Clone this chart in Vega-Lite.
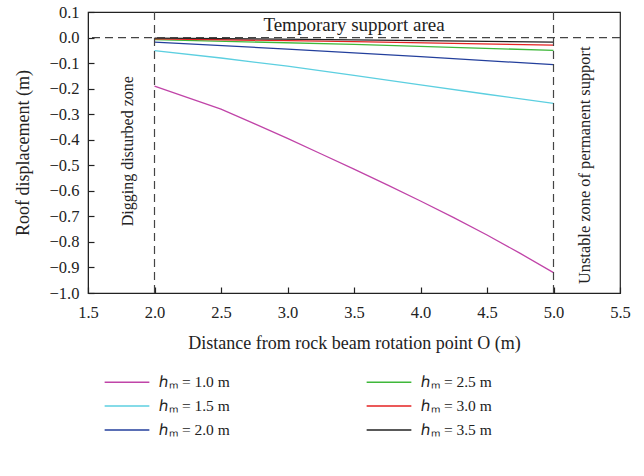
{
  "$schema": "https://vega.github.io/schema/vega-lite/v6.json",
  "width": 532,
  "height": 281,
  "autosize": "none",
  "padding": {"left": 88, "top": 12, "right": 24, "bottom": 183},
  "background": "white",
  "config": {
    "font": "Liberation Serif",
    "view": {"stroke": "#222", "strokeWidth": 1.2},
    "axis": {
      "labelFont": "Liberation Serif", "labelFontSize": 16.5, "labelColor": "#222",
      "titleFont": "Liberation Serif", "titleFontSize": 18, "titleFontWeight": "normal", "titleColor": "#222",
      "grid": false, "domainColor": "#222", "tickColor": "#222", "tickSize": -6, "tickWidth": 1.2,
      "labelOverlap": false, "labelBound": false, "labelFlush": false
    }
  },
  "datasets": {
    "series": [
      {"x": 2.0, "y": -0.19, "h": "ℎₘ = 1.0 m"},
      {"x": 2.25, "y": -0.235, "h": "ℎₘ = 1.0 m"},
      {"x": 2.5, "y": -0.28, "h": "ℎₘ = 1.0 m"},
      {"x": 2.75, "y": -0.337, "h": "ℎₘ = 1.0 m"},
      {"x": 3.0, "y": -0.395, "h": "ℎₘ = 1.0 m"},
      {"x": 3.25, "y": -0.455, "h": "ℎₘ = 1.0 m"},
      {"x": 3.5, "y": -0.515, "h": "ℎₘ = 1.0 m"},
      {"x": 3.75, "y": -0.577, "h": "ℎₘ = 1.0 m"},
      {"x": 4.0, "y": -0.64, "h": "ℎₘ = 1.0 m"},
      {"x": 4.25, "y": -0.705, "h": "ℎₘ = 1.0 m"},
      {"x": 4.5, "y": -0.773, "h": "ℎₘ = 1.0 m"},
      {"x": 4.75, "y": -0.845, "h": "ℎₘ = 1.0 m"},
      {"x": 5.0, "y": -0.92, "h": "ℎₘ = 1.0 m"},
      {"x": 2.0, "y": -0.051, "h": "ℎₘ = 1.5 m"},
      {"x": 2.5, "y": -0.08, "h": "ℎₘ = 1.5 m"},
      {"x": 3.0, "y": -0.112, "h": "ℎₘ = 1.5 m"},
      {"x": 3.5, "y": -0.148, "h": "ℎₘ = 1.5 m"},
      {"x": 4.0, "y": -0.185, "h": "ℎₘ = 1.5 m"},
      {"x": 4.5, "y": -0.222, "h": "ℎₘ = 1.5 m"},
      {"x": 5.0, "y": -0.258, "h": "ℎₘ = 1.5 m"},
      {"x": 2.0, "y": -0.018, "h": "ℎₘ = 2.0 m"},
      {"x": 3.0, "y": -0.045, "h": "ℎₘ = 2.0 m"},
      {"x": 4.0, "y": -0.075, "h": "ℎₘ = 2.0 m"},
      {"x": 5.0, "y": -0.106, "h": "ℎₘ = 2.0 m"},
      {"x": 2.0, "y": -0.008, "h": "ℎₘ = 2.5 m"},
      {"x": 3.5, "y": -0.027, "h": "ℎₘ = 2.5 m"},
      {"x": 5.0, "y": -0.05, "h": "ℎₘ = 2.5 m"},
      {"x": 2.0, "y": -0.005, "h": "ℎₘ = 3.0 m"},
      {"x": 3.5, "y": -0.016, "h": "ℎₘ = 3.0 m"},
      {"x": 5.0, "y": -0.03, "h": "ℎₘ = 3.0 m"},
      {"x": 2.0, "y": -0.002, "h": "ℎₘ = 3.5 m"},
      {"x": 3.5, "y": -0.009, "h": "ℎₘ = 3.5 m"},
      {"x": 5.0, "y": -0.018, "h": "ℎₘ = 3.5 m"}
    ],
    "vlines": [{"x": 2.0}, {"x": 5.0}],
    "hlines": [{"y": 0.0}],
    "top": [{"x": 3.5, "y": 0.05, "label": "Temporary support area"}],
    "left": [{"x": 1.8, "y": -0.445, "label": "Digging disturbed zone"}],
    "right": [{"x": 5.24, "y": -0.5, "label": "Unstable zone of permanent support"}]
  },
  "layer": [
    {
      "data": {"name": "series"},
      "mark": {"type": "line", "strokeWidth": 1.3},
      "encoding": {
        "x": {"field": "x", "type": "quantitative",
          "scale": {"domain": [1.5, 5.5], "nice": false, "zero": false},
          "axis": {"values": [1.5, 2.0, 2.5, 3.0, 3.5, 4.0, 4.5, 5.0, 5.5], "format": ".1f", "labelPadding": 17, "titlePadding": 14},
          "title": "Distance from rock beam rotation point O (m)"},
        "y": {"field": "y", "type": "quantitative",
          "scale": {"domain": [-1.0, 0.1], "nice": false, "zero": false},
          "axis": {"values": [0.1, 0.0, -0.1, -0.2, -0.3, -0.4, -0.5, -0.6, -0.7, -0.8, -0.9, -1.0], "format": ".1f", "labelPadding": 15, "titlePadding": 17},
          "title": "Roof displacement (m)"},
        "color": {"field": "h", "type": "nominal",
          "scale": {
            "domain": ["ℎₘ = 1.0 m", "ℎₘ = 1.5 m", "ℎₘ = 2.0 m", "ℎₘ = 2.5 m", "ℎₘ = 3.0 m", "ℎₘ = 3.5 m"],
            "range": ["#c044a8", "#5ccfe0", "#233f9c", "#3fb83a", "#e52222", "#222222"]
          },
          "legend": {
            "title": null, "orient": "none", "legendX": 27, "legendY": 358,
            "columns": 2, "columnPadding": 134, "rowPadding": 3,
            "symbolType": "M-2,0H2", "symbolSize": 500, "symbolStrokeWidth": 1.3,
            "labelFont": "Liberation Serif", "labelFontSize": 15.5, "labelColor": "#222", "labelOffset": 20, "labelLimit": 200
          }
        }
      }
    },
    {
      "data": {"name": "vlines"},
      "mark": {"type": "rule", "color": "#444", "strokeDash": [8, 5], "strokeWidth": 1.2},
      "encoding": {"x": {"field": "x", "type": "quantitative",
          "axis": {"values": [1.5, 2.0, 2.5, 3.0, 3.5, 4.0, 4.5, 5.0, 5.5], "format": ".1f", "labelPadding": 17, "titlePadding": 14},
          "title": "Distance from rock beam rotation point O (m)"}}
    },
    {
      "data": {"name": "hlines"},
      "mark": {"type": "rule", "color": "#444", "strokeDash": [8, 5], "strokeWidth": 1.2},
      "encoding": {"y": {"field": "y", "type": "quantitative",
          "axis": {"values": [0.1, 0.0, -0.1, -0.2, -0.3, -0.4, -0.5, -0.6, -0.7, -0.8, -0.9, -1.0], "format": ".1f", "labelPadding": 15, "titlePadding": 17},
          "title": "Roof displacement (m)"}}
    },
    {
      "data": {"name": "top"},
      "mark": {"type": "text", "fontSize": 19, "color": "#222", "font": "Liberation Serif", "align": "center", "baseline": "middle"},
      "encoding": {
        "x": {"field": "x", "type": "quantitative",
          "axis": {"values": [1.5, 2.0, 2.5, 3.0, 3.5, 4.0, 4.5, 5.0, 5.5], "format": ".1f", "labelPadding": 17, "titlePadding": 14},
          "title": "Distance from rock beam rotation point O (m)"},
        "y": {"field": "y", "type": "quantitative",
          "axis": {"values": [0.1, 0.0, -0.1, -0.2, -0.3, -0.4, -0.5, -0.6, -0.7, -0.8, -0.9, -1.0], "format": ".1f", "labelPadding": 15, "titlePadding": 17},
          "title": "Roof displacement (m)"},
        "text": {"field": "label"}}
    },
    {
      "data": {"name": "left"},
      "mark": {"type": "text", "fontSize": 16, "color": "#222", "font": "Liberation Serif", "align": "center", "baseline": "middle", "angle": 270},
      "encoding": {
        "x": {"field": "x", "type": "quantitative",
          "axis": {"values": [1.5, 2.0, 2.5, 3.0, 3.5, 4.0, 4.5, 5.0, 5.5], "format": ".1f", "labelPadding": 17, "titlePadding": 14},
          "title": "Distance from rock beam rotation point O (m)"},
        "y": {"field": "y", "type": "quantitative",
          "axis": {"values": [0.1, 0.0, -0.1, -0.2, -0.3, -0.4, -0.5, -0.6, -0.7, -0.8, -0.9, -1.0], "format": ".1f", "labelPadding": 15, "titlePadding": 17},
          "title": "Roof displacement (m)"},
        "text": {"field": "label"}}
    },
    {
      "data": {"name": "right"},
      "mark": {"type": "text", "fontSize": 16.4, "color": "#222", "font": "Liberation Serif", "align": "center", "baseline": "middle", "angle": 270},
      "encoding": {
        "x": {"field": "x", "type": "quantitative",
          "axis": {"values": [1.5, 2.0, 2.5, 3.0, 3.5, 4.0, 4.5, 5.0, 5.5], "format": ".1f", "labelPadding": 17, "titlePadding": 14},
          "title": "Distance from rock beam rotation point O (m)"},
        "y": {"field": "y", "type": "quantitative",
          "axis": {"values": [0.1, 0.0, -0.1, -0.2, -0.3, -0.4, -0.5, -0.6, -0.7, -0.8, -0.9, -1.0], "format": ".1f", "labelPadding": 15, "titlePadding": 17},
          "title": "Roof displacement (m)"},
        "text": {"field": "label"}}
    }
  ]
}
